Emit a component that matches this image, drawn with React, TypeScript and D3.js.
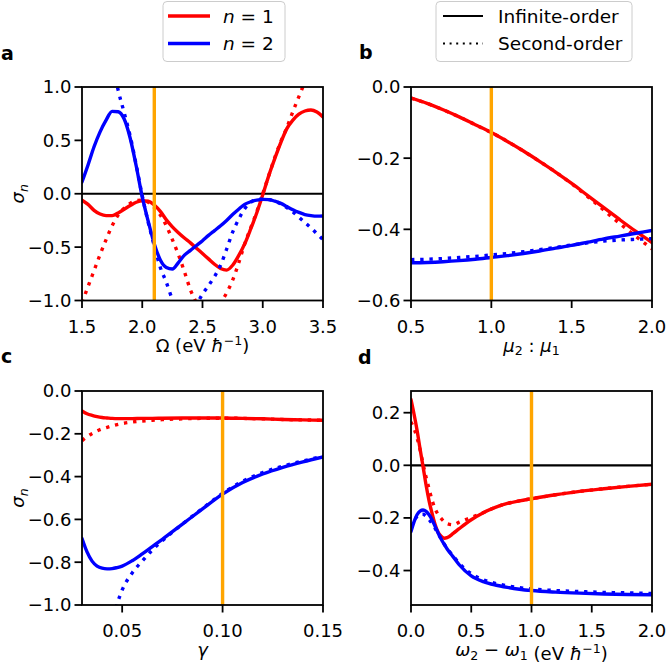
import React from "react";
import * as d3 from "d3";

// ---------- Panel a: sigma_n vs Omega ----------
const aX = [1.5, 1.55, 1.6, 1.65, 1.7, 1.75, 1.8, 1.85, 1.9, 1.95, 2.0, 2.05, 2.1, 2.15, 2.2, 2.25, 2.3, 2.35, 2.4, 2.45, 2.5, 2.55, 2.6, 2.65, 2.7, 2.75, 2.8, 2.85, 2.9, 2.95, 3.0, 3.05, 3.1, 3.15, 3.2, 3.25, 3.3, 3.35, 3.4, 3.45, 3.5];
const aN1Inf = [-0.06, -0.1, -0.155, -0.19, -0.205, -0.205, -0.18, -0.145, -0.11, -0.08, -0.065, -0.07, -0.105, -0.165, -0.245, -0.31, -0.365, -0.415, -0.46, -0.51, -0.56, -0.61, -0.66, -0.7, -0.715, -0.67, -0.58, -0.47, -0.33, -0.18, -0.01, 0.17, 0.33, 0.48, 0.61, 0.69, 0.745, 0.775, 0.785, 0.765, 0.72];
const aN1Sec = [-1.02, -0.87, -0.72, -0.57, -0.43, -0.3, -0.2, -0.135, -0.09, -0.065, -0.06, -0.08, -0.13, -0.2, -0.3, -0.43, -0.57, -0.73, -0.9, -1.02, -1.1, -1.13, -1.1, -1.02, -0.93, -0.81, -0.65, -0.47, -0.32, -0.17, 0.0, 0.17, 0.34, 0.49, 0.62, 0.77, 0.91, 1.05, null, null, null];
const aN2Inf = [0.11, 0.27, 0.44, 0.58, 0.69, 0.772, 0.768, 0.7, 0.52, 0.26, -0.03, -0.26, -0.47, -0.62, -0.69, -0.705, -0.645, -0.575, -0.53, -0.485, -0.44, -0.39, -0.345, -0.3, -0.25, -0.195, -0.145, -0.1, -0.075, -0.06, -0.053, -0.055, -0.07, -0.09, -0.12, -0.15, -0.175, -0.195, -0.205, -0.21, -0.208];
const aN2Sec = [null, null, null, null, null, 1.25, 0.97, 0.76, 0.54, 0.27, -0.02, -0.27, -0.49, -0.69, -0.83, -0.99, -1.1, -1.16, -1.14, -1.04, -0.94, -0.86, -0.775, -0.67, -0.52, -0.36, -0.24, -0.14, -0.08, -0.055, -0.05, -0.055, -0.07, -0.095, -0.13, -0.17, -0.22, -0.27, -0.32, -0.375, -0.43];
const aXTicks = [1.5, 2.0, 2.5, 3.0, 3.5];
const aYTicks = [1.0, 0.5, 0.0, -0.5, -1.0];

// ---------- Panel b: sigma_n vs mu2:mu1 ----------
const bX = [0.5, 0.6, 0.7, 0.8, 0.9, 1.0, 1.1, 1.2, 1.3, 1.4, 1.5, 1.6, 1.7, 1.8, 1.9, 2.0];
const bN1Inf = [-0.031, -0.046, -0.064, -0.084, -0.106, -0.128, -0.153, -0.18, -0.209, -0.239, -0.271, -0.305, -0.339, -0.373, -0.406, -0.437];
const bN1Sec = [-0.031, -0.046, -0.064, -0.084, -0.106, -0.128, -0.153, -0.18, -0.209, -0.239, -0.272, -0.308, -0.346, -0.384, -0.42, -0.455];
const bN2Inf = [-0.494, -0.493, -0.491, -0.488, -0.484, -0.479, -0.474, -0.468, -0.461, -0.453, -0.445, -0.436, -0.427, -0.419, -0.411, -0.403];
const bN2Sec = [-0.485, -0.484, -0.482, -0.479, -0.476, -0.472, -0.468, -0.463, -0.457, -0.451, -0.444, -0.438, -0.433, -0.43, -0.428, -0.426];
const bXTicks = [0.5, 1.0, 1.5, 2.0];
const bYTicks = [0.0, -0.2, -0.4, -0.6];

// ---------- Panel c: sigma_n vs gamma ----------
const cX = [0.03, 0.0325, 0.035, 0.0375, 0.04, 0.0425, 0.045, 0.0475, 0.05, 0.055, 0.06, 0.065, 0.07, 0.08, 0.09, 0.1, 0.11, 0.12, 0.13, 0.14, 0.15];
const cN1Inf = [-0.093, -0.106, -0.114, -0.12, -0.124, -0.126, -0.128, -0.129, -0.129, -0.129, -0.128, -0.128, -0.127, -0.126, -0.126, -0.126, -0.128, -0.13, -0.133, -0.135, -0.137];
const cN1Sec = [-0.232, -0.213, -0.199, -0.187, -0.177, -0.17, -0.163, -0.157, -0.152, -0.145, -0.14, -0.137, -0.134, -0.13, -0.128, -0.127, -0.128, -0.13, -0.133, -0.135, -0.137];
const cN2Inf = [-0.689, -0.752, -0.795, -0.818, -0.828, -0.831, -0.83, -0.825, -0.818, -0.793, -0.761, -0.727, -0.693, -0.622, -0.551, -0.482, -0.428, -0.388, -0.357, -0.331, -0.308];
const cN2Sec = [null, null, null, null, null, -1.18, -1.08, -0.995, -0.93, -0.85, -0.795, -0.743, -0.7, -0.622, -0.549, -0.478, -0.422, -0.381, -0.351, -0.327, -0.305];
const cXTicks = [0.05, 0.1, 0.15];
const cYTicks = [0.0, -0.2, -0.4, -0.6, -0.8, -1.0];

// ---------- Panel d: sigma_n vs omega2 - omega1 ----------
const dX = [0, 0.025, 0.05, 0.075, 0.1, 0.125, 0.15, 0.175, 0.2, 0.225, 0.25, 0.275, 0.3, 0.35, 0.4, 0.5, 0.6, 0.7, 0.8, 0.9, 1.0, 1.2, 1.4, 1.6, 1.8, 2.0];
const dN1Inf = [0.25, 0.195, 0.134, 0.063, -0.005, -0.075, -0.135, -0.183, -0.225, -0.255, -0.27, -0.277, -0.275, -0.259, -0.241, -0.207, -0.18, -0.16, -0.145, -0.135, -0.127, -0.112, -0.099, -0.089, -0.08, -0.072];
const dN1Sec = [0.165, 0.14, 0.105, 0.06, 0.005, -0.045, -0.09, -0.133, -0.165, -0.187, -0.202, -0.214, -0.222, -0.226, -0.216, -0.198, -0.18, -0.16, -0.145, -0.135, -0.127, -0.112, -0.099, -0.089, -0.08, -0.072];
const dN2Inf = [-0.252, -0.215, -0.188, -0.174, -0.17, -0.175, -0.188, -0.207, -0.232, -0.257, -0.28, -0.3, -0.318, -0.348, -0.378, -0.42, -0.442, -0.455, -0.464, -0.471, -0.476, -0.482, -0.486, -0.489, -0.491, -0.492];
const dN2Sec = [-0.235, -0.21, -0.195, -0.187, -0.186, -0.193, -0.206, -0.222, -0.24, -0.26, -0.28, -0.299, -0.316, -0.345, -0.372, -0.412, -0.435, -0.449, -0.458, -0.465, -0.47, -0.476, -0.48, -0.483, -0.485, -0.487];
const dXTicks = [0.0, 0.5, 1.0, 1.5, 2.0];
const dYTicks = [0.2, 0.0, -0.2, -0.4];

const legendSeries = ["n = 1", "n = 2"];
const legendStyles = ["Infinite-order", "Second-order"];

// ---------- styling ----------
const FONT = "'DejaVu Sans', sans-serif";
const FS = 18;
const LFS = 18.5;
const RED = "#ff0000";
const BLUE = "#0000ff";
const ORANGE = "#ffa500";
const LW = 3.4;
const DOTS = "3.4,5.8";

type Series = { x: number[]; y: (number | null)[]; color: string; dotted: boolean };

type PanelProps = {
  id: string;
  left: number;
  right: number;
  top: number;
  bottom: number;
  xDomain: [number, number];
  yDomain: [number, number];
  xTicks: number[];
  yTicks: number[];
  xFmt: string;
  yFmt: string;
  series: Series[];
  vline: number;
  zeroLine: boolean;
  xLabel: React.ReactNode;
  yLabel: boolean;
  letter: string;
  letterX: number;
  letterY: number;
};

const minus = (s: string) => s.replace("-", "\u2212");

function Panel(p: PanelProps) {
  const x = d3.scaleLinear().domain(p.xDomain).range([p.left, p.right]);
  const y = d3.scaleLinear().domain(p.yDomain).range([p.bottom, p.top]);
  const clip = `clip-${p.id}`;
  const fx = d3.format(p.xFmt);
  const fy = d3.format(p.yFmt);
  const midX = (p.left + p.right) / 2;
  const midY = (p.top + p.bottom) / 2;
  return (
    <g>
      <defs>
        <clipPath id={clip}>
          <rect x={p.left} y={p.top} width={p.right - p.left} height={p.bottom - p.top} />
        </clipPath>
      </defs>
      <g clipPath={`url(#${clip})`}>
        {p.zeroLine && (
          <line x1={p.left} x2={p.right} y1={y(0)} y2={y(0)} stroke="#000" strokeWidth={2.2} />
        )}
        {p.series.map((s, i) => {
          const pts: [number, number | null][] = s.x.map((xv, j) => [xv, s.y[j]]);
          const gen = d3
            .line<[number, number | null]>()
            .defined((d) => d[1] !== null)
            .x((d) => x(d[0]))
            .y((d) => y(d[1] as number))
            .curve(d3.curveMonotoneX);
          return (
            <path
              key={i}
              d={gen(pts) || ""}
              fill="none"
              stroke={s.color}
              strokeWidth={LW}
              strokeDasharray={s.dotted ? DOTS : undefined}
              strokeLinecap={s.dotted ? "butt" : "round"}
              strokeLinejoin="round"
            />
          );
        })}
        <line x1={x(p.vline)} x2={x(p.vline)} y1={p.top} y2={p.bottom} stroke={ORANGE} strokeWidth={LW} />
      </g>
      <rect
        x={p.left}
        y={p.top}
        width={p.right - p.left}
        height={p.bottom - p.top}
        fill="none"
        stroke="#000"
        strokeWidth={1.8}
      />
      {p.xTicks.map((t) => (
        <g key={"x" + t}>
          <line x1={x(t)} x2={x(t)} y1={p.bottom} y2={p.bottom + 7.5} stroke="#000" strokeWidth={1.8} />
          <text x={x(t)} y={p.bottom + 32} textAnchor="middle" fontFamily={FONT} fontSize={FS} fill="#000">
            {minus(fx(t))}
          </text>
        </g>
      ))}
      {p.yTicks.map((t) => (
        <g key={"y" + t}>
          <line x1={p.left - 7.5} x2={p.left} y1={y(t)} y2={y(t)} stroke="#000" strokeWidth={1.8} />
          <text x={p.left - 10.5} y={y(t)} dy="0.36em" textAnchor="end" fontFamily={FONT} fontSize={FS} fill="#000">
            {minus(fy(t))}
          </text>
        </g>
      ))}
      <text x={midX} y={p.bottom + 51} textAnchor="middle" fontFamily={FONT} fontSize={FS} fill="#000">
        {p.xLabel}
      </text>
      {p.yLabel && (
        <text
          transform={`translate(24,${midY}) rotate(-90)`}
          textAnchor="middle"
          fontFamily={FONT}
          fontSize={FS}
          fill="#000"
        >
          <tspan fontStyle="italic">σ</tspan>
          <tspan fontStyle="italic" fontSize={12.6} dy={3.5}>
            n
          </tspan>
        </text>
      )}
      <text x={p.letterX} y={p.letterY} fontFamily={FONT} fontSize={19} fontWeight="bold" fill="#000">
        {p.letter}
      </text>
    </g>
  );
}

const hbarInv = (
  <>
    {" (eV "}
    <tspan fontStyle="italic">ħ</tspan>
    <tspan fontSize={12.6} dy={-7}>
      −1
    </tspan>
    <tspan dy={7}>)</tspan>
  </>
);

function Legends() {
  const rows = [22.5, 50];
  const lineY = [16, 43.5];
  return (
    <g fontFamily={FONT} fontSize={LFS}>
      <rect x={163} y={1.5} width={122} height={60} rx={4} fill="#fff" fillOpacity={0.8} stroke="#cccccc" strokeWidth={1} />
      {legendSeries.map((lab, i) => {
        const parts = lab.split(" ");
        return (
          <g key={lab}>
            <line x1={168} x2={210} y1={lineY[i]} y2={lineY[i]} stroke={i === 0 ? RED : BLUE} strokeWidth={LW} />
            <text x={223} y={rows[i]} fill="#000">
              <tspan fontStyle="italic">{parts[0]}</tspan>
              {" " + parts.slice(1).join(" ")}
            </text>
          </g>
        );
      })}
      <rect x={436} y={1.5} width={196} height={60} rx={4} fill="#fff" fillOpacity={0.8} stroke="#cccccc" strokeWidth={1} />
      {legendStyles.map((lab, i) => (
        <g key={lab}>
          <line
            x1={443}
            x2={483}
            y1={lineY[i]}
            y2={lineY[i]}
            stroke="#000"
            strokeWidth={2}
            strokeDasharray={i === 1 ? "2,4.6" : undefined}
          />
          <text x={498} y={rows[i]} fill="#000">
            {lab}
          </text>
        </g>
      ))}
    </g>
  );
}

export default function App() {
  const mk = (x: number[], y1: (number | null)[], y1s: (number | null)[], y2: (number | null)[], y2s: (number | null)[]): Series[] => [
    { x, y: y1, color: RED, dotted: false },
    { x, y: y1s, color: RED, dotted: true },
    { x, y: y2, color: BLUE, dotted: false },
    { x, y: y2s, color: BLUE, dotted: true },
  ];
  return (
    <svg
      width={666}
      height={668}
      viewBox="0 0 666 668"
      style={{ position: "absolute", left: 0, top: 0, background: "#fff" }}
    >
      <rect width={666} height={668} fill="#fff" />
      <Panel
        id="a"
        left={82}
        right={323}
        top={87}
        bottom={300.5}
        xDomain={[1.5, 3.5]}
        yDomain={[-1, 1]}
        xTicks={aXTicks}
        yTicks={aYTicks}
        xFmt=".1f"
        yFmt=".1f"
        series={mk(aX, aN1Inf, aN1Sec, aN2Inf, aN2Sec)}
        vline={2.1}
        zeroLine={true}
        xLabel={
          <>
            {"Ω"}
            {hbarInv}
          </>
        }
        yLabel={true}
        letter="a"
        letterX={1}
        letterY={60}
      />
      <Panel
        id="b"
        left={411}
        right={652}
        top={87}
        bottom={300.5}
        xDomain={[0.5, 2.0]}
        yDomain={[-0.6, 0.0]}
        xTicks={bXTicks}
        yTicks={bYTicks}
        xFmt=".1f"
        yFmt=".1f"
        series={mk(bX, bN1Inf, bN1Sec, bN2Inf, bN2Sec)}
        vline={1.0}
        zeroLine={false}
        xLabel={
          <>
            <tspan fontStyle="italic">μ</tspan>
            <tspan fontSize={12.6} dy={3.5}>2</tspan>
            <tspan dy={-3.5}>{" : "}</tspan>
            <tspan fontStyle="italic">μ</tspan>
            <tspan fontSize={12.6} dy={3.5}>1</tspan>
          </>
        }
        yLabel={false}
        letter="b"
        letterX={359}
        letterY={59}
      />
      <Panel
        id="c"
        left={82}
        right={323}
        top={391}
        bottom={605}
        xDomain={[0.03, 0.15]}
        yDomain={[-1, 0]}
        xTicks={cXTicks}
        yTicks={cYTicks}
        xFmt=".2f"
        yFmt=".1f"
        series={mk(cX, cN1Inf, cN1Sec, cN2Inf, cN2Sec)}
        vline={0.1}
        zeroLine={false}
        xLabel={<tspan fontStyle="italic">γ</tspan>}
        yLabel={true}
        letter="c"
        letterX={1}
        letterY={363}
      />
      <Panel
        id="d"
        left={411}
        right={652}
        top={391}
        bottom={605}
        xDomain={[0, 2]}
        yDomain={[-0.531, 0.2825]}
        xTicks={dXTicks}
        yTicks={dYTicks}
        xFmt=".1f"
        yFmt=".1f"
        series={mk(dX, dN1Inf, dN1Sec, dN2Inf, dN2Sec)}
        vline={1.0}
        zeroLine={true}
        xLabel={
          <>
            <tspan fontStyle="italic">ω</tspan>
            <tspan fontSize={12.6} dy={3.5}>2</tspan>
            <tspan dy={-3.5}>{" − "}</tspan>
            <tspan fontStyle="italic">ω</tspan>
            <tspan fontSize={12.6} dy={3.5}>1</tspan>
            <tspan dy={-3.5}>{""}</tspan>
            {hbarInv}
          </>
        }
        yLabel={false}
        letter="d"
        letterX={358}
        letterY={364}
      />
      <Legends />
    </svg>
  );
}
